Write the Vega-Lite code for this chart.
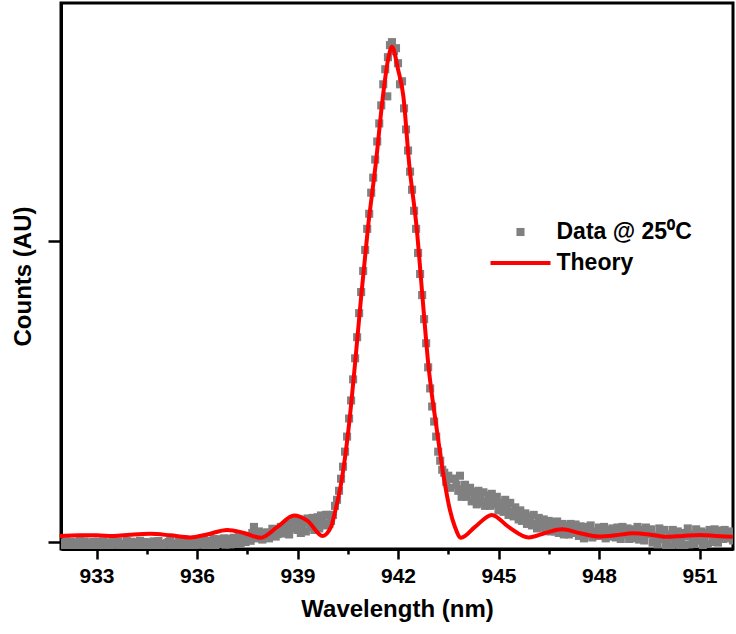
{
 "$schema": "https://vega.github.io/schema/vega-lite/v6.json",
 "width": 672,
 "height": 546,
 "autosize": "none",
 "padding": {"left": 61, "top": 3, "right": 3, "bottom": 85},
 "background": "white",
 "config": {
  "view": {"stroke": "black", "strokeWidth": 3},
  "font": "Liberation Sans",
  "axis": {"domainColor": "black", "domainWidth": 3, "tickColor": "black", "tickWidth": 2.5, "labelFont": "Liberation Sans", "labelFontWeight": "bold", "labelColor": "black", "titleFont": "Liberation Sans", "titleFontWeight": "bold", "titleColor": "black", "grid": false}
 },
 "datasets": {
  "obs": [
   {"x":931.9,"y":-0.004,"s":"Data @ 25⁰C"},{"x":932.0,"y":-0.012,"s":"Data @ 25⁰C"},{"x":932.1,"y":0.002,"s":"Data @ 25⁰C"},{"x":932.2,"y":-0.008,"s":"Data @ 25⁰C"},{"x":932.3,"y":-0.016,"s":"Data @ 25⁰C"},{"x":932.4,"y":-0.002,"s":"Data @ 25⁰C"},{"x":932.5,"y":0.003,"s":"Data @ 25⁰C"},{"x":932.6,"y":-0.01,"s":"Data @ 25⁰C"},{"x":932.7,"y":-0.018,"s":"Data @ 25⁰C"},{"x":932.8,"y":-0.006,"s":"Data @ 25⁰C"},{"x":932.9,"y":0.001,"s":"Data @ 25⁰C"},
   {"x":933.0,"y":-0.013,"s":"Data @ 25⁰C"},{"x":933.1,"y":-0.007,"s":"Data @ 25⁰C"},{"x":933.2,"y":0.002,"s":"Data @ 25⁰C"},{"x":933.3,"y":-0.015,"s":"Data @ 25⁰C"},{"x":933.4,"y":-0.009,"s":"Data @ 25⁰C"},{"x":933.5,"y":0.0,"s":"Data @ 25⁰C"},{"x":933.6,"y":-0.004,"s":"Data @ 25⁰C"},{"x":933.7,"y":-0.017,"s":"Data @ 25⁰C"},{"x":933.8,"y":-0.011,"s":"Data @ 25⁰C"},{"x":933.9,"y":0.003,"s":"Data @ 25⁰C"},
   {"x":934.0,"y":-0.006,"s":"Data @ 25⁰C"},{"x":934.1,"y":-0.014,"s":"Data @ 25⁰C"},{"x":934.2,"y":-0.002,"s":"Data @ 25⁰C"},{"x":934.3,"y":0.004,"s":"Data @ 25⁰C"},{"x":934.4,"y":-0.009,"s":"Data @ 25⁰C"},{"x":934.5,"y":-0.016,"s":"Data @ 25⁰C"},{"x":934.6,"y":-0.003,"s":"Data @ 25⁰C"},{"x":934.7,"y":0.002,"s":"Data @ 25⁰C"},{"x":934.8,"y":-0.012,"s":"Data @ 25⁰C"},{"x":934.9,"y":-0.007,"s":"Data @ 25⁰C"},
   {"x":935.0,"y":-0.018,"s":"Data @ 25⁰C"},{"x":935.1,"y":-0.004,"s":"Data @ 25⁰C"},{"x":935.2,"y":0.003,"s":"Data @ 25⁰C"},{"x":935.3,"y":-0.01,"s":"Data @ 25⁰C"},{"x":935.4,"y":-0.015,"s":"Data @ 25⁰C"},{"x":935.5,"y":-0.001,"s":"Data @ 25⁰C"},{"x":935.6,"y":-0.008,"s":"Data @ 25⁰C"},{"x":935.7,"y":0.002,"s":"Data @ 25⁰C"},{"x":935.8,"y":-0.013,"s":"Data @ 25⁰C"},{"x":935.9,"y":-0.005,"s":"Data @ 25⁰C"},
   {"x":936.0,"y":0.004,"s":"Data @ 25⁰C"},{"x":936.1,"y":-0.009,"s":"Data @ 25⁰C"},{"x":936.2,"y":0.008,"s":"Data @ 25⁰C"},{"x":936.3,"y":-0.002,"s":"Data @ 25⁰C"},{"x":936.4,"y":-0.012,"s":"Data @ 25⁰C"},{"x":936.5,"y":0.01,"s":"Data @ 25⁰C"},{"x":936.6,"y":0.003,"s":"Data @ 25⁰C"},{"x":936.7,"y":-0.006,"s":"Data @ 25⁰C"},{"x":936.8,"y":0.012,"s":"Data @ 25⁰C"},{"x":936.9,"y":0.0,"s":"Data @ 25⁰C"},
   {"x":937.0,"y":-0.008,"s":"Data @ 25⁰C"},{"x":937.1,"y":0.014,"s":"Data @ 25⁰C"},{"x":937.2,"y":0.005,"s":"Data @ 25⁰C"},{"x":937.3,"y":-0.004,"s":"Data @ 25⁰C"},{"x":937.4,"y":0.01,"s":"Data @ 25⁰C"},{"x":937.5,"y":0.018,"s":"Data @ 25⁰C"},{"x":937.6,"y":0.004,"s":"Data @ 25⁰C"},{"x":937.7,"y":0.05,"s":"Data @ 25⁰C"},{"x":937.8,"y":0.012,"s":"Data @ 25⁰C"},{"x":937.9,"y":0.028,"s":"Data @ 25⁰C"},
   {"x":938.0,"y":0.016,"s":"Data @ 25⁰C"},{"x":938.1,"y":0.032,"s":"Data @ 25⁰C"},{"x":938.2,"y":0.02,"s":"Data @ 25⁰C"},{"x":938.3,"y":0.04,"s":"Data @ 25⁰C"},{"x":938.4,"y":0.026,"s":"Data @ 25⁰C"},{"x":938.5,"y":0.05,"s":"Data @ 25⁰C"},{"x":938.6,"y":0.028,"s":"Data @ 25⁰C"},{"x":938.7,"y":0.035,"s":"Data @ 25⁰C"},{"x":938.8,"y":0.062,"s":"Data @ 25⁰C"},{"x":938.9,"y":0.07,"s":"Data @ 25⁰C"},
   {"x":939.0,"y":0.04,"s":"Data @ 25⁰C"},{"x":939.1,"y":0.03,"s":"Data @ 25⁰C"},{"x":939.2,"y":0.068,"s":"Data @ 25⁰C"},{"x":939.3,"y":0.078,"s":"Data @ 25⁰C"},{"x":939.4,"y":0.05,"s":"Data @ 25⁰C"},{"x":939.5,"y":0.04,"s":"Data @ 25⁰C"},{"x":939.6,"y":0.082,"s":"Data @ 25⁰C"},{"x":939.7,"y":0.088,"s":"Data @ 25⁰C"},{"x":939.8,"y":0.055,"s":"Data @ 25⁰C"},{"x":939.9,"y":0.09,"s":"Data @ 25⁰C"},
   {"x":931.95,"y":-0.015,"s":"Data @ 25⁰C"},{"x":932.05,"y":-0.002,"s":"Data @ 25⁰C"},{"x":932.15,"y":-0.011,"s":"Data @ 25⁰C"},{"x":932.25,"y":0.001,"s":"Data @ 25⁰C"},{"x":932.35,"y":-0.007,"s":"Data @ 25⁰C"},{"x":932.45,"y":-0.017,"s":"Data @ 25⁰C"},{"x":932.55,"y":-0.009,"s":"Data @ 25⁰C"},{"x":932.65,"y":0.002,"s":"Data @ 25⁰C"},{"x":932.75,"y":-0.005,"s":"Data @ 25⁰C"},{"x":932.85,"y":-0.014,"s":"Data @ 25⁰C"},{"x":932.95,"y":-0.003,"s":"Data @ 25⁰C"},
   {"x":933.05,"y":0.001,"s":"Data @ 25⁰C"},{"x":933.15,"y":-0.016,"s":"Data @ 25⁰C"},{"x":933.25,"y":-0.006,"s":"Data @ 25⁰C"},{"x":933.35,"y":-0.001,"s":"Data @ 25⁰C"},{"x":933.45,"y":-0.014,"s":"Data @ 25⁰C"},{"x":933.55,"y":-0.008,"s":"Data @ 25⁰C"},{"x":933.65,"y":0.002,"s":"Data @ 25⁰C"},{"x":933.75,"y":-0.006,"s":"Data @ 25⁰C"},{"x":933.85,"y":-0.016,"s":"Data @ 25⁰C"},{"x":933.95,"y":-0.009,"s":"Data @ 25⁰C"},
   {"x":934.05,"y":0.001,"s":"Data @ 25⁰C"},{"x":934.15,"y":-0.005,"s":"Data @ 25⁰C"},{"x":934.25,"y":-0.013,"s":"Data @ 25⁰C"},{"x":934.35,"y":-0.017,"s":"Data @ 25⁰C"},{"x":934.45,"y":0.0,"s":"Data @ 25⁰C"},{"x":934.55,"y":-0.007,"s":"Data @ 25⁰C"},{"x":934.65,"y":-0.012,"s":"Data @ 25⁰C"},{"x":934.75,"y":-0.004,"s":"Data @ 25⁰C"},{"x":934.85,"y":0.003,"s":"Data @ 25⁰C"},{"x":934.95,"y":-0.014,"s":"Data @ 25⁰C"},
   {"x":935.05,"y":-0.009,"s":"Data @ 25⁰C"},{"x":935.15,"y":0.0,"s":"Data @ 25⁰C"},{"x":935.25,"y":-0.016,"s":"Data @ 25⁰C"},{"x":935.35,"y":-0.005,"s":"Data @ 25⁰C"},{"x":935.45,"y":0.002,"s":"Data @ 25⁰C"},{"x":935.55,"y":-0.011,"s":"Data @ 25⁰C"},{"x":935.65,"y":-0.017,"s":"Data @ 25⁰C"},{"x":935.75,"y":-0.004,"s":"Data @ 25⁰C"},{"x":935.85,"y":0.001,"s":"Data @ 25⁰C"},{"x":935.95,"y":-0.012,"s":"Data @ 25⁰C"},
   {"x":936.05,"y":-0.003,"s":"Data @ 25⁰C"},{"x":936.15,"y":0.006,"s":"Data @ 25⁰C"},{"x":936.25,"y":-0.01,"s":"Data @ 25⁰C"},{"x":936.35,"y":0.004,"s":"Data @ 25⁰C"},{"x":936.45,"y":-0.005,"s":"Data @ 25⁰C"},{"x":936.55,"y":-0.011,"s":"Data @ 25⁰C"},{"x":936.65,"y":0.009,"s":"Data @ 25⁰C"},{"x":936.75,"y":0.002,"s":"Data @ 25⁰C"},{"x":936.85,"y":-0.009,"s":"Data @ 25⁰C"},{"x":936.95,"y":0.011,"s":"Data @ 25⁰C"},
   {"x":937.05,"y":0.004,"s":"Data @ 25⁰C"},{"x":937.15,"y":-0.005,"s":"Data @ 25⁰C"},{"x":937.25,"y":0.016,"s":"Data @ 25⁰C"},{"x":937.35,"y":0.008,"s":"Data @ 25⁰C"},{"x":937.45,"y":0.0,"s":"Data @ 25⁰C"},{"x":937.55,"y":0.02,"s":"Data @ 25⁰C"},{"x":937.65,"y":0.03,"s":"Data @ 25⁰C"},{"x":937.75,"y":0.022,"s":"Data @ 25⁰C"},{"x":937.85,"y":0.035,"s":"Data @ 25⁰C"},{"x":937.95,"y":0.008,"s":"Data @ 25⁰C"},
   {"x":938.05,"y":0.03,"s":"Data @ 25⁰C"},{"x":938.15,"y":0.012,"s":"Data @ 25⁰C"},{"x":938.25,"y":0.044,"s":"Data @ 25⁰C"},{"x":938.35,"y":0.018,"s":"Data @ 25⁰C"},{"x":938.45,"y":0.035,"s":"Data @ 25⁰C"},{"x":938.55,"y":0.04,"s":"Data @ 25⁰C"},{"x":938.65,"y":0.056,"s":"Data @ 25⁰C"},{"x":938.75,"y":0.025,"s":"Data @ 25⁰C"},{"x":938.85,"y":0.045,"s":"Data @ 25⁰C"},{"x":938.95,"y":0.058,"s":"Data @ 25⁰C"},
   {"x":939.05,"y":0.075,"s":"Data @ 25⁰C"},{"x":939.15,"y":0.05,"s":"Data @ 25⁰C"},{"x":939.25,"y":0.035,"s":"Data @ 25⁰C"},{"x":939.35,"y":0.065,"s":"Data @ 25⁰C"},{"x":939.45,"y":0.08,"s":"Data @ 25⁰C"},{"x":939.55,"y":0.06,"s":"Data @ 25⁰C"},{"x":939.65,"y":0.045,"s":"Data @ 25⁰C"},{"x":939.75,"y":0.072,"s":"Data @ 25⁰C"},{"x":939.85,"y":0.09,"s":"Data @ 25⁰C"},{"x":939.95,"y":0.06,"s":"Data @ 25⁰C"},
   {"x":940.0,"y":0.07,"s":"Data @ 25⁰C"},{"x":940.06,"y":0.09,"s":"Data @ 25⁰C"},{"x":940.12,"y":0.12,"s":"Data @ 25⁰C"},{"x":940.18,"y":0.14,"s":"Data @ 25⁰C"},{"x":940.24,"y":0.17,"s":"Data @ 25⁰C"},{"x":940.3,"y":0.21,"s":"Data @ 25⁰C"},{"x":940.36,"y":0.25,"s":"Data @ 25⁰C"},{"x":940.42,"y":0.3,"s":"Data @ 25⁰C"},{"x":940.48,"y":0.35,"s":"Data @ 25⁰C"},{"x":940.54,"y":0.41,"s":"Data @ 25⁰C"},
   {"x":940.6,"y":0.47,"s":"Data @ 25⁰C"},{"x":940.66,"y":0.54,"s":"Data @ 25⁰C"},{"x":940.72,"y":0.61,"s":"Data @ 25⁰C"},{"x":940.78,"y":0.68,"s":"Data @ 25⁰C"},{"x":940.84,"y":0.76,"s":"Data @ 25⁰C"},{"x":940.9,"y":0.83,"s":"Data @ 25⁰C"},{"x":940.96,"y":0.9,"s":"Data @ 25⁰C"},{"x":941.02,"y":0.97,"s":"Data @ 25⁰C"},{"x":941.08,"y":1.04,"s":"Data @ 25⁰C"},{"x":941.14,"y":1.09,"s":"Data @ 25⁰C"},
   {"x":941.2,"y":1.16,"s":"Data @ 25⁰C"},{"x":941.26,"y":1.21,"s":"Data @ 25⁰C"},{"x":941.32,"y":1.27,"s":"Data @ 25⁰C"},{"x":941.38,"y":1.33,"s":"Data @ 25⁰C"},{"x":941.44,"y":1.39,"s":"Data @ 25⁰C"},{"x":941.5,"y":1.45,"s":"Data @ 25⁰C"},{"x":941.56,"y":1.52,"s":"Data @ 25⁰C"},{"x":941.62,"y":1.57,"s":"Data @ 25⁰C"},{"x":941.68,"y":1.48,"s":"Data @ 25⁰C"},{"x":941.7,"y":1.61,"s":"Data @ 25⁰C"},
   {"x":941.76,"y":1.65,"s":"Data @ 25⁰C"},{"x":941.82,"y":1.66,"s":"Data @ 25⁰C"},{"x":941.88,"y":1.63,"s":"Data @ 25⁰C"},{"x":941.94,"y":1.64,"s":"Data @ 25⁰C"},{"x":942.0,"y":1.59,"s":"Data @ 25⁰C"},{"x":942.06,"y":1.52,"s":"Data @ 25⁰C"},{"x":942.12,"y":1.53,"s":"Data @ 25⁰C"},{"x":942.18,"y":1.44,"s":"Data @ 25⁰C"},{"x":942.24,"y":1.37,"s":"Data @ 25⁰C"},{"x":942.3,"y":1.3,"s":"Data @ 25⁰C"},
   {"x":942.36,"y":1.23,"s":"Data @ 25⁰C"},{"x":942.42,"y":1.17,"s":"Data @ 25⁰C"},{"x":942.48,"y":1.1,"s":"Data @ 25⁰C"},{"x":942.54,"y":1.04,"s":"Data @ 25⁰C"},{"x":942.6,"y":0.96,"s":"Data @ 25⁰C"},{"x":942.66,"y":0.89,"s":"Data @ 25⁰C"},{"x":942.72,"y":0.82,"s":"Data @ 25⁰C"},{"x":942.78,"y":0.74,"s":"Data @ 25⁰C"},{"x":942.84,"y":0.66,"s":"Data @ 25⁰C"},{"x":942.9,"y":0.58,"s":"Data @ 25⁰C"},
   {"x":942.96,"y":0.51,"s":"Data @ 25⁰C"},{"x":943.02,"y":0.45,"s":"Data @ 25⁰C"},{"x":943.08,"y":0.4,"s":"Data @ 25⁰C"},{"x":943.14,"y":0.35,"s":"Data @ 25⁰C"},{"x":943.2,"y":0.3,"s":"Data @ 25⁰C"},{"x":943.26,"y":0.27,"s":"Data @ 25⁰C"},{"x":943.32,"y":0.24,"s":"Data @ 25⁰C"},{"x":943.38,"y":0.23,"s":"Data @ 25⁰C"},{"x":943.44,"y":0.2,"s":"Data @ 25⁰C"},{"x":943.5,"y":0.22,"s":"Data @ 25⁰C"},
   {"x":943.56,"y":0.18,"s":"Data @ 25⁰C"},{"x":943.62,"y":0.21,"s":"Data @ 25⁰C"},
   {"x":943.7,"y":0.21,"s":"Data @ 25⁰C"},{"x":943.8,"y":0.17,"s":"Data @ 25⁰C"},{"x":943.9,"y":0.15,"s":"Data @ 25⁰C"},{"x":944.0,"y":0.19,"s":"Data @ 25⁰C"},{"x":944.1,"y":0.165,"s":"Data @ 25⁰C"},{"x":944.2,"y":0.135,"s":"Data @ 25⁰C"},{"x":944.3,"y":0.145,"s":"Data @ 25⁰C"},{"x":944.4,"y":0.17,"s":"Data @ 25⁰C"},{"x":944.5,"y":0.13,"s":"Data @ 25⁰C"},{"x":944.6,"y":0.12,"s":"Data @ 25⁰C"},
   {"x":944.7,"y":0.155,"s":"Data @ 25⁰C"},{"x":944.8,"y":0.16,"s":"Data @ 25⁰C"},{"x":944.9,"y":0.125,"s":"Data @ 25⁰C"},{"x":945.0,"y":0.105,"s":"Data @ 25⁰C"},{"x":945.1,"y":0.13,"s":"Data @ 25⁰C"},{"x":945.2,"y":0.14,"s":"Data @ 25⁰C"},{"x":945.3,"y":0.09,"s":"Data @ 25⁰C"},{"x":945.4,"y":0.1,"s":"Data @ 25⁰C"},{"x":945.5,"y":0.115,"s":"Data @ 25⁰C"},{"x":945.6,"y":0.075,"s":"Data @ 25⁰C"},
   {"x":945.7,"y":0.07,"s":"Data @ 25⁰C"},{"x":945.8,"y":0.095,"s":"Data @ 25⁰C"},{"x":945.9,"y":0.085,"s":"Data @ 25⁰C"},{"x":946.0,"y":0.055,"s":"Data @ 25⁰C"},{"x":946.1,"y":0.06,"s":"Data @ 25⁰C"},{"x":946.2,"y":0.08,"s":"Data @ 25⁰C"},{"x":946.3,"y":0.05,"s":"Data @ 25⁰C"},{"x":946.4,"y":0.04,"s":"Data @ 25⁰C"},{"x":946.5,"y":0.07,"s":"Data @ 25⁰C"},{"x":946.6,"y":0.065,"s":"Data @ 25⁰C"},
   {"x":946.7,"y":0.035,"s":"Data @ 25⁰C"},{"x":946.8,"y":0.03,"s":"Data @ 25⁰C"},{"x":946.9,"y":0.06,"s":"Data @ 25⁰C"},{"x":947.0,"y":0.055,"s":"Data @ 25⁰C"},{"x":947.1,"y":0.025,"s":"Data @ 25⁰C"},{"x":947.2,"y":0.045,"s":"Data @ 25⁰C"},{"x":947.3,"y":0.058,"s":"Data @ 25⁰C"},{"x":947.4,"y":0.02,"s":"Data @ 25⁰C"},{"x":947.5,"y":0.03,"s":"Data @ 25⁰C"},{"x":947.6,"y":0.05,"s":"Data @ 25⁰C"},
   {"x":947.7,"y":0.042,"s":"Data @ 25⁰C"},{"x":947.8,"y":0.015,"s":"Data @ 25⁰C"},{"x":947.9,"y":0.035,"s":"Data @ 25⁰C"},{"x":948.0,"y":0.048,"s":"Data @ 25⁰C"},{"x":948.1,"y":0.02,"s":"Data @ 25⁰C"},{"x":948.2,"y":0.012,"s":"Data @ 25⁰C"},{"x":948.3,"y":0.04,"s":"Data @ 25⁰C"},{"x":948.4,"y":0.045,"s":"Data @ 25⁰C"},{"x":948.5,"y":0.015,"s":"Data @ 25⁰C"},{"x":948.6,"y":0.03,"s":"Data @ 25⁰C"},
   {"x":948.7,"y":0.05,"s":"Data @ 25⁰C"},{"x":948.8,"y":0.025,"s":"Data @ 25⁰C"},{"x":948.9,"y":0.01,"s":"Data @ 25⁰C"},{"x":949.0,"y":0.042,"s":"Data @ 25⁰C"},{"x":949.1,"y":0.035,"s":"Data @ 25⁰C"},{"x":949.2,"y":0.008,"s":"Data @ 25⁰C"},{"x":949.3,"y":0.02,"s":"Data @ 25⁰C"},{"x":949.4,"y":0.048,"s":"Data @ 25⁰C"},{"x":949.5,"y":0.03,"s":"Data @ 25⁰C"},{"x":949.6,"y":-0.002,"s":"Data @ 25⁰C"},
   {"x":949.7,"y":0.015,"s":"Data @ 25⁰C"},{"x":949.8,"y":0.045,"s":"Data @ 25⁰C"},{"x":949.9,"y":0.01,"s":"Data @ 25⁰C"},{"x":950.0,"y":-0.01,"s":"Data @ 25⁰C"},{"x":950.1,"y":0.025,"s":"Data @ 25⁰C"},{"x":950.2,"y":0.04,"s":"Data @ 25⁰C"},{"x":950.3,"y":-0.005,"s":"Data @ 25⁰C"},{"x":950.4,"y":-0.012,"s":"Data @ 25⁰C"},{"x":950.5,"y":0.03,"s":"Data @ 25⁰C"},{"x":950.6,"y":0.02,"s":"Data @ 25⁰C"},
   {"x":950.7,"y":-0.008,"s":"Data @ 25⁰C"},{"x":950.8,"y":0.012,"s":"Data @ 25⁰C"},{"x":950.9,"y":0.042,"s":"Data @ 25⁰C"},{"x":951.0,"y":0.005,"s":"Data @ 25⁰C"},{"x":951.1,"y":-0.01,"s":"Data @ 25⁰C"},{"x":951.2,"y":0.03,"s":"Data @ 25⁰C"},{"x":951.3,"y":0.04,"s":"Data @ 25⁰C"},{"x":951.4,"y":0.0,"s":"Data @ 25⁰C"},{"x":951.5,"y":0.015,"s":"Data @ 25⁰C"},{"x":951.6,"y":0.038,"s":"Data @ 25⁰C"},
   {"x":951.7,"y":0.01,"s":"Data @ 25⁰C"},{"x":951.8,"y":0.025,"s":"Data @ 25⁰C"},{"x":951.9,"y":0.035,"s":"Data @ 25⁰C"},{"x":952.0,"y":0.005,"s":"Data @ 25⁰C"},
   {"x":943.75,"y":0.19,"s":"Data @ 25⁰C"},{"x":943.85,"y":0.22,"s":"Data @ 25⁰C"},{"x":943.95,"y":0.175,"s":"Data @ 25⁰C"},{"x":944.05,"y":0.15,"s":"Data @ 25⁰C"},{"x":944.15,"y":0.18,"s":"Data @ 25⁰C"},{"x":944.25,"y":0.165,"s":"Data @ 25⁰C"},{"x":944.35,"y":0.125,"s":"Data @ 25⁰C"},{"x":944.45,"y":0.155,"s":"Data @ 25⁰C"},{"x":944.55,"y":0.165,"s":"Data @ 25⁰C"},{"x":944.65,"y":0.135,"s":"Data @ 25⁰C"},
   {"x":944.75,"y":0.12,"s":"Data @ 25⁰C"},{"x":944.85,"y":0.145,"s":"Data @ 25⁰C"},{"x":944.95,"y":0.15,"s":"Data @ 25⁰C"},{"x":945.05,"y":0.12,"s":"Data @ 25⁰C"},{"x":945.15,"y":0.1,"s":"Data @ 25⁰C"},{"x":945.25,"y":0.115,"s":"Data @ 25⁰C"},{"x":945.35,"y":0.13,"s":"Data @ 25⁰C"},{"x":945.45,"y":0.085,"s":"Data @ 25⁰C"},{"x":945.55,"y":0.095,"s":"Data @ 25⁰C"},{"x":945.65,"y":0.105,"s":"Data @ 25⁰C"},
   {"x":945.75,"y":0.08,"s":"Data @ 25⁰C"},{"x":945.85,"y":0.06,"s":"Data @ 25⁰C"},{"x":945.95,"y":0.07,"s":"Data @ 25⁰C"},{"x":946.05,"y":0.09,"s":"Data @ 25⁰C"},{"x":946.15,"y":0.045,"s":"Data @ 25⁰C"},{"x":946.25,"y":0.065,"s":"Data @ 25⁰C"},{"x":946.35,"y":0.075,"s":"Data @ 25⁰C"},{"x":946.45,"y":0.055,"s":"Data @ 25⁰C"},{"x":946.55,"y":0.035,"s":"Data @ 25⁰C"},{"x":946.65,"y":0.05,"s":"Data @ 25⁰C"},
   {"x":946.75,"y":0.068,"s":"Data @ 25⁰C"},{"x":946.85,"y":0.045,"s":"Data @ 25⁰C"},{"x":946.95,"y":0.025,"s":"Data @ 25⁰C"},{"x":947.05,"y":0.04,"s":"Data @ 25⁰C"},{"x":947.15,"y":0.06,"s":"Data @ 25⁰C"},{"x":947.25,"y":0.03,"s":"Data @ 25⁰C"},{"x":947.35,"y":0.04,"s":"Data @ 25⁰C"},{"x":947.45,"y":0.052,"s":"Data @ 25⁰C"},{"x":947.55,"y":0.012,"s":"Data @ 25⁰C"},{"x":947.65,"y":0.025,"s":"Data @ 25⁰C"},
   {"x":947.75,"y":0.055,"s":"Data @ 25⁰C"},{"x":947.85,"y":0.03,"s":"Data @ 25⁰C"},{"x":947.95,"y":0.02,"s":"Data @ 25⁰C"},{"x":948.05,"y":0.035,"s":"Data @ 25⁰C"},{"x":948.15,"y":0.05,"s":"Data @ 25⁰C"},{"x":948.25,"y":0.028,"s":"Data @ 25⁰C"},{"x":948.35,"y":0.018,"s":"Data @ 25⁰C"},{"x":948.45,"y":0.032,"s":"Data @ 25⁰C"},{"x":948.55,"y":0.048,"s":"Data @ 25⁰C"},{"x":948.65,"y":0.01,"s":"Data @ 25⁰C"},
   {"x":948.75,"y":0.038,"s":"Data @ 25⁰C"},{"x":948.85,"y":0.045,"s":"Data @ 25⁰C"},{"x":948.95,"y":0.03,"s":"Data @ 25⁰C"},{"x":949.05,"y":0.012,"s":"Data @ 25⁰C"},{"x":949.15,"y":0.05,"s":"Data @ 25⁰C"},{"x":949.25,"y":0.04,"s":"Data @ 25⁰C"},{"x":949.35,"y":0.005,"s":"Data @ 25⁰C"},{"x":949.45,"y":0.025,"s":"Data @ 25⁰C"},{"x":949.55,"y":0.042,"s":"Data @ 25⁰C"},{"x":949.65,"y":0.02,"s":"Data @ 25⁰C"},
   {"x":949.75,"y":-0.008,"s":"Data @ 25⁰C"},{"x":949.85,"y":0.03,"s":"Data @ 25⁰C"},{"x":949.95,"y":0.04,"s":"Data @ 25⁰C"},{"x":950.05,"y":0.005,"s":"Data @ 25⁰C"},{"x":950.15,"y":-0.014,"s":"Data @ 25⁰C"},{"x":950.25,"y":0.015,"s":"Data @ 25⁰C"},{"x":950.35,"y":0.035,"s":"Data @ 25⁰C"},{"x":950.45,"y":0.01,"s":"Data @ 25⁰C"},{"x":950.55,"y":-0.01,"s":"Data @ 25⁰C"},{"x":950.65,"y":0.045,"s":"Data @ 25⁰C"},
   {"x":950.75,"y":0.025,"s":"Data @ 25⁰C"},{"x":950.85,"y":-0.004,"s":"Data @ 25⁰C"},{"x":950.95,"y":0.02,"s":"Data @ 25⁰C"},{"x":951.05,"y":0.035,"s":"Data @ 25⁰C"},{"x":951.15,"y":0.015,"s":"Data @ 25⁰C"},{"x":951.25,"y":-0.006,"s":"Data @ 25⁰C"},{"x":951.35,"y":0.025,"s":"Data @ 25⁰C"},{"x":951.45,"y":0.042,"s":"Data @ 25⁰C"},{"x":951.55,"y":-0.002,"s":"Data @ 25⁰C"},{"x":951.65,"y":0.02,"s":"Data @ 25⁰C"},
   {"x":951.75,"y":0.04,"s":"Data @ 25⁰C"},{"x":951.85,"y":0.012,"s":"Data @ 25⁰C"},{"x":951.95,"y":0.03,"s":"Data @ 25⁰C"}
  ],
  "th": [
   {"x":931.9,"y":0.02},{"x":932.5,"y":0.022},{"x":933.0,"y":0.022},{"x":933.5,"y":0.02},{"x":934.0,"y":0.024},{"x":934.6,"y":0.027},{"x":935.2,"y":0.022},{"x":935.8,"y":0.015},{"x":936.3,"y":0.025},{"x":936.9,"y":0.04},{"x":937.4,"y":0.03},{"x":937.9,"y":0.014},{"x":938.4,"y":0.05},{"x":938.9,"y":0.088},{"x":939.3,"y":0.07},{"x":939.75,"y":0.02},{"x":940.0,"y":0.05},{"x":940.12,"y":0.1},{"x":940.32,"y":0.206},{"x":940.52,"y":0.372},{"x":940.72,"y":0.595},{"x":940.9,"y":0.815},{"x":941.1,"y":1.04},{"x":941.34,"y":1.26},{"x":941.55,"y":1.48},{"x":941.7,"y":1.6},{"x":941.82,"y":1.645},{"x":942.0,"y":1.57},{"x":942.16,"y":1.48},{"x":942.33,"y":1.26},{"x":942.56,"y":1.04},{"x":942.73,"y":0.815},{"x":942.9,"y":0.595},{"x":943.16,"y":0.372},{"x":943.38,"y":0.206},{"x":943.55,"y":0.106},{"x":943.7,"y":0.05},{"x":943.88,"y":0.014},{"x":944.3,"y":0.05},{"x":944.8,"y":0.09},{"x":945.3,"y":0.05},{"x":945.9,"y":0.015},{"x":946.4,"y":0.03},{"x":946.9,"y":0.042},{"x":947.4,"y":0.03},{"x":948.0,"y":0.018},{"x":948.5,"y":0.022},{"x":949.0,"y":0.029},{"x":949.5,"y":0.025},{"x":950.0,"y":0.017},{"x":950.5,"y":0.02},{"x":951.0,"y":0.023},{"x":951.5,"y":0.02},{"x":952.0,"y":0.017}
  ]
 },
 "layer": [
  {
   "data": {"name": "obs"},
   "mark": {"type": "point", "filled": true, "opacity": 1, "size": 900, "clip": true, "strokeWidth": 0},
   "encoding": {
    "x": {"field": "x", "type": "quantitative", "scale": {"domain": [931.94, 952.0], "nice": false, "zero": false},
     "axis": {"title": "Wavelength (nm)", "values": [933, 934.5, 936, 937.5, 939, 940.5, 942, 943.5, 945, 946.5, 948, 949.5, 951], "format": "d", "labelExpr": "datum.value % 3 === 0 ? datum.label : ''", "tickSize": {"condition": {"test": "datum.value % 3 === 0", "value": 10}, "value": 5}, "labelFontSize": 21, "labelPadding": 6, "titleFontSize": 24, "titlePadding": 11}},
    "y": {"field": "y", "type": "quantitative", "scale": {"domain": [-0.0233, 1.79], "nice": false, "zero": false},
     "axis": {"title": "Counts (AU)", "values": [0, 1], "labels": false, "tickSize": 13, "titleFontSize": 24, "titlePadding": 11}},
    "color": {"field": "s", "type": "nominal", "scale": {"domain": ["Data @ 25⁰C", "Theory"], "range": ["#808080", "#ff0000"]},
     "legend": {"orient": "none", "legendX": 444.5, "legendY": 214, "title": null, "labelFont": "Liberation Sans", "labelFontWeight": "bold", "labelFontSize": 23, "labelColor": "black", "labelOffset": 21, "labelLimit": 0, "symbolSize": 900, "symbolStrokeWidth": 0, "symbolOpacity": 1, "rowPadding": 4}},
    "shape": {"field": "s", "type": "nominal", "scale": {"domain": ["Data @ 25⁰C", "Theory"], "range": ["M-0.27,-0.27H0.27V0.27H-0.27Z", "M-2,-0.13H2V0.13H-2Z"]},
     "legend": {"orient": "none", "legendX": 444.5, "legendY": 214, "title": null, "labelFont": "Liberation Sans", "labelFontWeight": "bold", "labelFontSize": 23, "labelColor": "black", "labelOffset": 21, "labelLimit": 0, "symbolSize": 900, "symbolStrokeWidth": 0, "symbolOpacity": 1, "rowPadding": 4}}
   }
  },
  {
   "data": {"name": "th"},
   "mark": {"type": "line", "color": "#ff0000", "strokeWidth": 4, "interpolate": "monotone"},
   "encoding": {
    "x": {"field": "x", "type": "quantitative"},
    "y": {"field": "y", "type": "quantitative"}
   }
  }
 ]
}
